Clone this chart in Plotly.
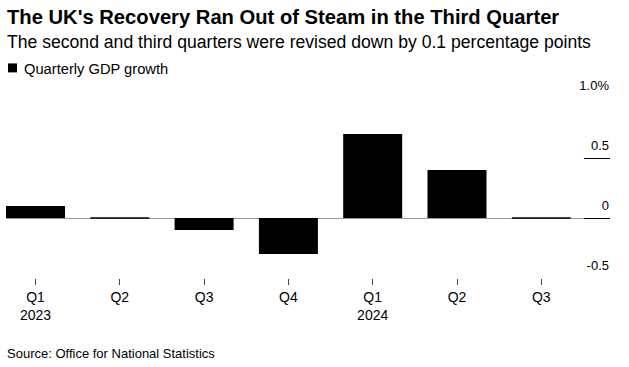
import plotly.graph_objects as go

# ---- data ----
quarters = ["2023 Q1", "2023 Q2", "2023 Q3", "2023 Q4", "2024 Q1", "2024 Q2", "2024 Q3"]
tick_labels = ["Q1<br>2023", "Q2", "Q3", "Q4", "Q1<br>2024", "Q2", "Q3"]
gdp_growth = [0.1, 0.0, -0.1, -0.3, 0.7, 0.4, 0.0]
y_tick_vals = [-0.5, 0, 0.5, 1.0]
y_tick_text = ["-0.5", "0", "0.5", "1.0%"]

title = "The UK's Recovery Ran Out of Steam in the Third Quarter"
subtitle = "The second and third quarters were revised down by 0.1 percentage points"
legend_label = "Quarterly GDP growth"
source = "Source: Office for National Statistics"

# ---- layout geometry ----
W, H = 629, 367
L, R, T, B = 6, 19, 97.7, 88.7
plot_h = H - T - B
plot_w = W - L - R
FONT = "Liberation Sans, Arial, sans-serif"


def py(pix):
    """pixel y (from top) -> paper y"""
    return (H - B - pix) / plot_h


def px(pix):
    return (pix - L) / plot_w


fig = go.Figure()
fig.add_trace(go.Bar(
    x=quarters, y=gdp_growth, marker=dict(color="#000000", line=dict(width=0)),
    showlegend=False, hoverinfo="x+y",
))
# zero-valued quarters drawn as a thin line at bar width
zero_x = [q for q, v in zip(quarters, gdp_growth) if v == 0]
zero_y = [v for v in gdp_growth if v == 0]
fig.add_trace(go.Scatter(
    x=zero_x, y=zero_y, mode="markers", showlegend=False, hoverinfo="skip",
    marker=dict(symbol="line-ew", size=42, line=dict(width=1.5, color="#000000")),
))

fig.update_layout(
    width=W, height=H,
    margin=dict(l=L, r=R, t=T, b=B, pad=0, autoexpand=False),
    paper_bgcolor="white", plot_bgcolor="white",
    bargap=0.3,
    font=dict(family=FONT, color="#000000"),
    xaxis=dict(
        type="category", categoryorder="array", categoryarray=quarters,
        range=[-0.35, 6.815],
        tickmode="array", tickvals=quarters, ticktext=tick_labels,
        ticks="outside", ticklen=6, tickwidth=1, tickcolor="#444444",
        tickfont=dict(size=14, color="#000000"),
        showgrid=False, showline=False, zeroline=False,
    ),
    yaxis=dict(
        side="right", range=[-0.5, 1.0],
        tickmode="array", tickvals=y_tick_vals, ticktext=y_tick_text,
        ticks="inside", ticklen=26, tickwidth=1, tickcolor="#000000",
        ticklabelposition="inside top", ticklabeloverflow="allow",
        ticklabelshift=-3, ticklabelstandoff=-2,
        tickfont=dict(size=13, color="#000000"),
        showgrid=False, showline=False,
        zeroline=True, zerolinecolor="#9a9a9a", zerolinewidth=1,
    ),
    shapes=[dict(type="rect", xref="paper", yref="paper",
                 x0=px(8), x1=px(17), y0=py(72), y1=py(63),
                 fillcolor="#000000", line=dict(width=0))],
    annotations=[
        dict(text="<b>%s</b>" % title, xref="paper", yref="paper", x=px(5), y=py(16),
             xanchor="left", yanchor="middle", showarrow=False,
             font=dict(size=20.2, family=FONT, color="#000000")),
        dict(text=subtitle, xref="paper", yref="paper", x=px(5), y=py(42),
             xanchor="left", yanchor="middle", showarrow=False,
             font=dict(size=17.6, family=FONT, color="#000000")),
        dict(text=legend_label, xref="paper", yref="paper", x=px(22), y=py(68.5),
             xanchor="left", yanchor="middle", showarrow=False,
             font=dict(size=14.7, family=FONT, color="#000000")),
        dict(text=source, xref="paper", yref="paper", x=px(5), y=py(354),
             xanchor="left", yanchor="middle", showarrow=False,
             font=dict(size=13, family=FONT, color="#000000")),
    ],
)

fig.write_html("out.html", config={"displayModeBar": False},
               post_script="document.body.style.margin='0';document.body.style.overflow='hidden';")
